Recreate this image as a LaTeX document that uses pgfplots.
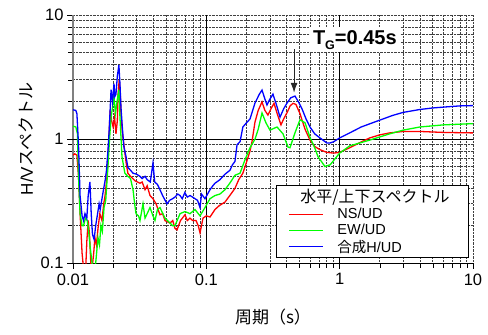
\documentclass[border=0pt]{standalone}
\usepackage{pgfplots}
\pgfplotsset{compat=1.18}
\usetikzlibrary{arrows.meta}
\usepackage{fontspec}
\setmainfont{Liberation Sans}
\newfontfamily\jp{Noto Sans CJK JP}

\begin{document}
\begin{tikzpicture}
\begin{axis}[
  xmode=log, ymode=log,
  scale only axis, width=400pt, height=248pt,
  xmin=0.01, xmax=10, ymin=0.1, ymax=10,
  axis x line*=bottom, axis y line*=left,
  x axis line style={black, line width=0.8pt},
  y axis line style={gray, line width=1.6pt},
  tick align=outside,
  major tick length=6pt, minor tick length=5pt,
  every tick/.style={black, line width=0.6pt},
  xtick={0.01,0.1,1,10}, xticklabels={0.01,0.1,1,10},
  ytick={0.1,1,10}, yticklabels={0.1,1,10},
  /pgf/number format/assume math mode=true,
  tick label style={font=\fontsize{16.5}{16.5}\selectfont},
  xticklabel style={yshift=-1pt},
  grid=both,
  minor grid style={densely dotted, black!75, line width=0.8pt},
  major grid style={densely dotted, black!75, line width=0.8pt},
  extra x ticks={0.1,1}, extra x tick labels={},
  extra y ticks={1}, extra y tick labels={},
  extra tick style={grid=major, major grid style={solid, black, line width=0.8pt}},
  xlabel={\jp 周期（s）},
  ylabel={H/V{\jp スペクトル}},
  label style={font=\fontsize{17}{17}\selectfont},
  xlabel style={yshift=-5pt},
  ylabel style={yshift=-12pt},
  legend cell align=left,
  legend image code/.code={\draw[#1] (0pt,0pt) -- (34pt,0pt); \path[draw=none,fill=none] (-5pt,0pt) -- (46pt,0pt);},
  legend image post style={line width=0.9pt},
  legend style={at={(0.99,0.02)}, anchor=south east, draw=black, line width=0.8pt,
    fill=white, font=\fontsize{14.5}{17.5}\selectfont, inner xsep=8pt, inner ysep=2pt},
]
\addlegendimage{empty legend}
\addlegendentry{\hspace*{-37pt}{\jp\fontsize{16}{17.5}\selectfont 水平/上下スペクトル}\hspace*{9pt}}

\addplot[red, line width=1.3pt] coordinates {
(0.01,0.74) (0.0103,0.76) (0.0107,0.74) (0.011,0.5) (0.0113,0.25) (0.0117,0.12) (0.012,0.09) (0.0124,0.08) (0.0127,0.15) (0.0130,0.22) (0.0133,0.17) (0.0136,0.1) (0.0139,0.09) (0.0143,0.12) (0.0146,0.16) (0.015,0.14) (0.0154,0.19) (0.0159,0.25) (0.0165,0.22) (0.017,0.30) (0.0174,0.35) (0.018,0.5) (0.0185,0.9) (0.019,1.7) (0.0195,1.4) (0.02,1.25) (0.0205,1.5) (0.021,1.1) (0.0215,1.4) (0.0218,2.3) (0.0222,3.0) (0.0226,2.4) (0.0229,1.6) (0.0235,1.1) (0.0241,0.9) (0.025,0.65) (0.0258,0.53) (0.027,0.5) (0.0292,0.46) (0.0318,0.44) (0.033,0.45) (0.0347,0.39) (0.036,0.42) (0.0378,0.35) (0.0398,0.33) (0.042,0.3) (0.0449,0.245) (0.047,0.25) (0.049,0.22) (0.0534,0.21) (0.056,0.22) (0.0582,0.19) (0.0603,0.185) (0.064,0.22) (0.0692,0.245) (0.072,0.22) (0.0754,0.23) (0.0790,0.22) (0.0837,0.22) (0.0870,0.2) (0.0897,0.175) (0.0944,0.23) (0.1,0.24) (0.1065,0.235) (0.1161,0.27) (0.125,0.29) (0.138,0.31) (0.15,0.35) (0.164,0.4) (0.175,0.47) (0.188,0.53) (0.2,0.65) (0.2126,0.8) (0.22,0.95) (0.2317,1.37) (0.245,1.7) (0.2616,1.99) (0.275,1.7) (0.29,1.56) (0.305,1.75) (0.322,1.94) (0.34,1.6) (0.363,1.3) (0.38,1.45) (0.403,1.63) (0.425,1.85) (0.447,1.94) (0.47,1.9) (0.504,1.6) (0.55,1.2) (0.599,0.98) (0.65,0.87) (0.712,0.82) (0.8,0.78) (0.9,0.77) (1.0,0.78) (1.19,0.85) (1.4,0.93) (1.68,1.02) (2.0,1.08) (2.37,1.12) (3.0,1.15) (4.0,1.15) (6,1.13) (10,1.12)
};
\addlegendentry{NS/UD}

\addplot[green, line width=1.3pt] coordinates {
(0.01,1.27) (0.0105,1.25) (0.0108,1.1) (0.011,0.5) (0.0113,0.25) (0.0117,0.2) (0.0120,0.2) (0.0124,0.23) (0.0128,0.22) (0.0131,0.18) (0.0135,0.13) (0.0139,0.1) (0.0143,0.09) (0.0148,0.1) (0.0154,0.16) (0.0158,0.14) (0.0162,0.2) (0.0166,0.18) (0.0171,0.28) (0.0176,0.32) (0.0183,0.6) (0.0188,1.0) (0.0193,1.5) (0.0198,1.8) (0.0203,2.2) (0.0208,1.6) (0.0214,2.0) (0.0221,2.5) (0.0225,1.5) (0.0233,0.72) (0.0245,0.53) (0.0258,0.5) (0.027,0.48) (0.0282,0.39) (0.029,0.3) (0.0297,0.25) (0.031,0.24) (0.0318,0.22) (0.0335,0.3) (0.0347,0.23) (0.036,0.25) (0.0378,0.28) (0.0398,0.24) (0.0412,0.22) (0.043,0.27) (0.0449,0.28) (0.049,0.23) (0.0534,0.21) (0.0558,0.2) (0.0582,0.2) (0.0635,0.25) (0.0692,0.26) (0.0754,0.25) (0.0822,0.27) (0.0897,0.24) (0.0977,0.28) (0.1065,0.33) (0.1161,0.35) (0.1266,0.36) (0.138,0.39) (0.15,0.44) (0.164,0.51) (0.179,0.53) (0.195,0.68) (0.2126,0.85) (0.232,1.0) (0.245,1.2) (0.2616,1.62) (0.28,1.35) (0.3,1.18) (0.339,1.25) (0.376,1.1) (0.41,0.86) (0.424,0.85) (0.462,1.12) (0.504,1.43) (0.55,1.35) (0.599,1.03) (0.65,0.85) (0.688,0.72) (0.776,0.6) (0.85,0.62) (0.93,0.7) (1.0,0.77) (1.19,0.88) (1.68,0.98) (2.37,1.1) (3.0,1.18) (4.0,1.25) (6,1.3) (10,1.33)
};
\addlegendentry{EW/UD}

\addplot[blue, line width=1.3pt] coordinates {
(0.01,1.72) (0.0105,1.70) (0.0107,1.6) (0.0110,0.9) (0.0113,0.35) (0.0117,0.24) (0.0120,0.22) (0.0123,0.25) (0.0127,0.23) (0.0130,0.35) (0.0134,0.45) (0.0137,0.25) (0.0140,0.17) (0.0144,0.155) (0.0148,0.2) (0.0152,0.24) (0.0157,0.30) (0.016,0.27) (0.0165,0.33) (0.017,0.40) (0.0174,0.46) (0.0178,0.55) (0.0183,0.81) (0.0187,1.2) (0.0193,2.5) (0.0198,2.0) (0.0203,2.8) (0.0206,2.2) (0.021,2.3) (0.0215,3.2) (0.0221,3.95) (0.0225,2.8) (0.0229,1.8) (0.0235,1.2) (0.0241,0.86) (0.025,0.72) (0.0258,0.59) (0.027,0.56) (0.0282,0.53) (0.030,0.52) (0.0318,0.5) (0.033,0.48) (0.0347,0.5) (0.036,0.47) (0.038,0.45) (0.0398,0.64) (0.041,0.45) (0.043,0.43) (0.0449,0.39) (0.047,0.35) (0.0507,0.30) (0.053,0.32) (0.0558,0.33) (0.0582,0.34) (0.061,0.36) (0.0635,0.35) (0.066,0.33) (0.069,0.37) (0.072,0.34) (0.0754,0.35) (0.079,0.34) (0.0822,0.33) (0.086,0.32) (0.0897,0.28) (0.092,0.36) (0.0977,0.33) (0.1065,0.39) (0.112,0.42) (0.1161,0.44) (0.1266,0.47) (0.131,0.49) (0.138,0.52) (0.1505,0.56) (0.157,0.62) (0.164,0.66) (0.170,0.90) (0.179,0.95) (0.188,1.25) (0.20,1.35) (0.2126,1.45) (0.2317,1.95) (0.25,2.3) (0.2616,2.48) (0.275,2.1) (0.285,1.88) (0.30,2.1) (0.316,2.3) (0.335,1.9) (0.357,1.5) (0.38,1.75) (0.403,1.95) (0.43,2.15) (0.462,2.22) (0.49,2.0) (0.522,1.75) (0.56,1.45) (0.599,1.25) (0.65,1.1) (0.712,1.02) (0.80,0.93) (0.85,0.93) (0.9,0.95) (1.0,1.02) (1.19,1.12) (1.45,1.25) (2.0,1.42) (2.5,1.55) (3.0,1.64) (4.0,1.73) (5,1.78) (6.5,1.82) (8,1.85) (10,1.86)
};
\addlegendentry{{\jp 合成}H/UD}

\node[fill=white, inner sep=3pt, font=\bfseries\fontsize{20}{20}\selectfont] at (axis cs:1.3,6.3) {T\raisebox{-0.45ex}{\fontsize{12.5}{12.5}\selectfont G}=0.45s};
\draw[-{Latex[length=10pt,width=7pt]}, black!85, line width=1pt] (axis cs:0.455,5.3) -- (axis cs:0.455,2.36);
\end{axis}
\pgfresetboundingbox
\path ([shift={(-73pt,-72pt)}]current axis.south west) rectangle ([shift={(15pt,15pt)}]current axis.north east);
\end{tikzpicture}
\end{document}
